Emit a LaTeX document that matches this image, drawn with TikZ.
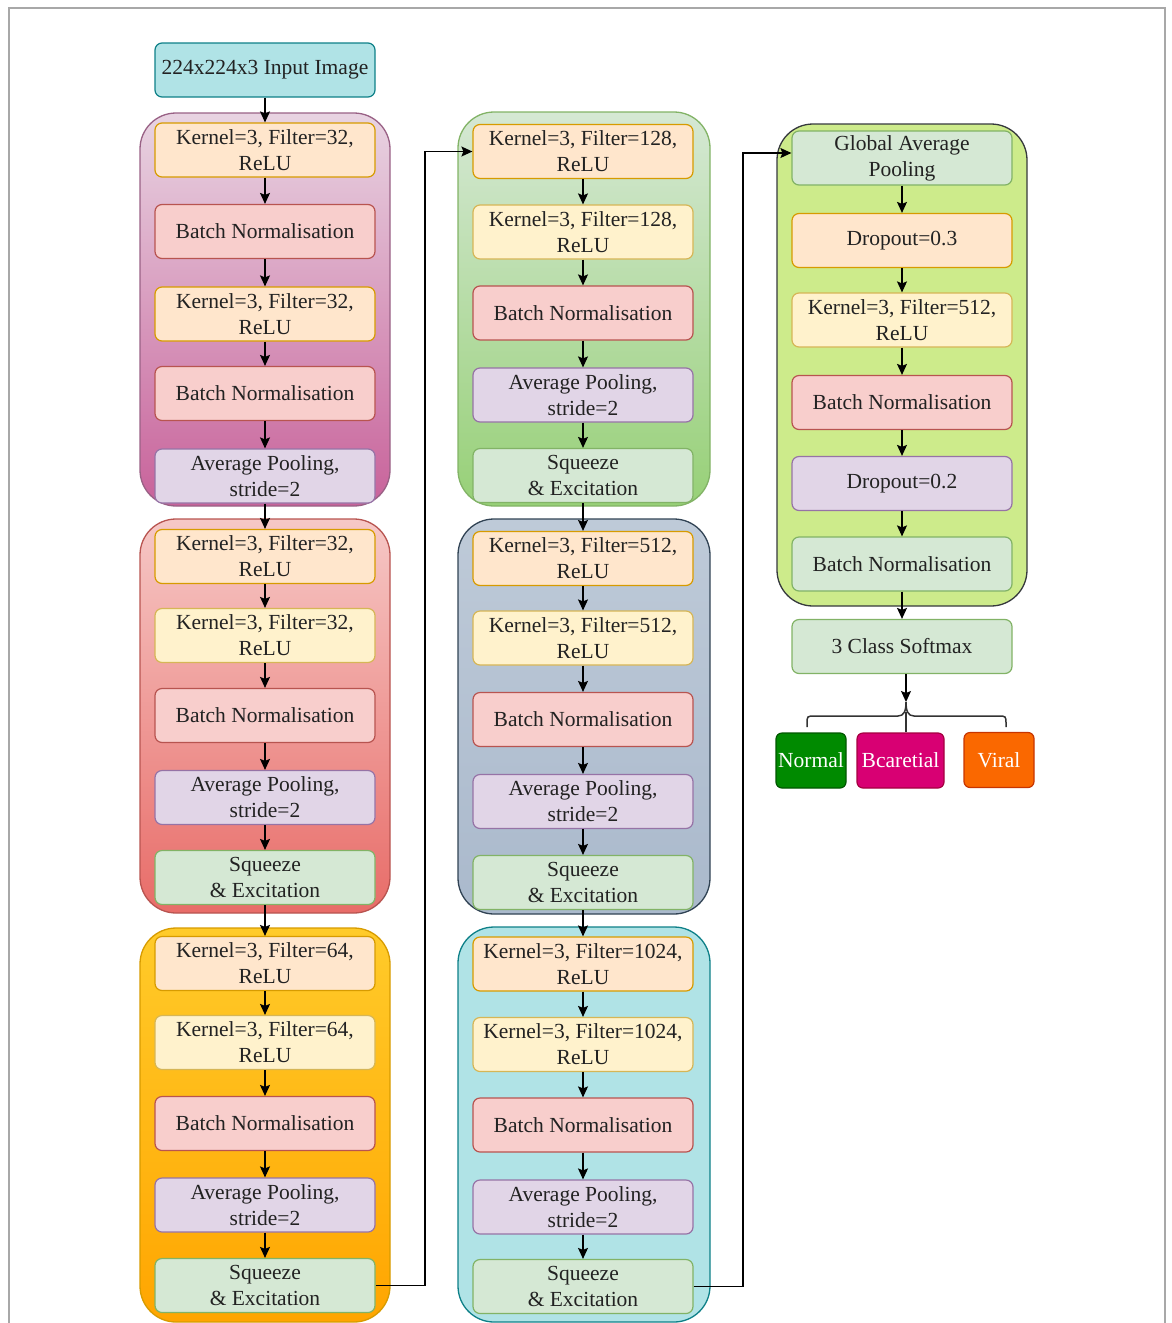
\documentclass[tikz,border=0pt]{standalone}
\usepackage{fontspec}
\setmainfont{Liberation Serif}
\newfontfamily\boxfont{Liberation Serif}
\usetikzlibrary{arrows.meta}

\definecolor{orfill}{HTML}{FFE6CC}\definecolor{ordraw}{HTML}{D79B00}
\definecolor{yefill}{HTML}{FFF2CC}\definecolor{yedraw}{HTML}{D6B656}
\definecolor{rdfill}{HTML}{F8CECC}\definecolor{rddraw}{HTML}{B85450}
\definecolor{pufill}{HTML}{E1D5E7}\definecolor{pudraw}{HTML}{9673A6}
\definecolor{grfill}{HTML}{D5E8D4}\definecolor{grdraw}{HTML}{82B366}
\definecolor{cyfill}{HTML}{B0E3E6}\definecolor{cydraw}{HTML}{0E8088}
\definecolor{frameline}{HTML}{A8A8A8}
\definecolor{ink}{HTML}{222222}

\begin{document}
\begin{tikzpicture}[x=1pt,y=-1pt,
  txt/.style={font=\boxfont\fontsize{21.5}{26}\selectfont, text=ink},
  box/.style={draw, rounded corners=7, minimum width=220, minimum height=54,
    inner sep=0, align=center, line width=1.2, txt},
  convo/.style={box, fill=orfill, draw=ordraw},
  convy/.style={box, fill=yefill, draw=yedraw},
  bn/.style={box, fill=rdfill, draw=rddraw},
  pool/.style={box, fill=pufill, draw=pudraw},
  se/.style={box, fill=grfill, draw=grdraw},
  inbox/.style={box, fill=cyfill, draw=cydraw},
  blk/.style={rounded corners=36, line width=1.3},
  cls/.style={draw, rounded corners=6, minimum height=55, inner sep=0,
    text=white, line width=1.2, font=\boxfont\fontsize{21.5}{26}\selectfont},
  arr/.style={-{Stealth[length=11pt,width=10pt,inset=2pt]}, line width=1.3},
  brace/.style={line width=1.5, draw=black!80}
]
\useasboundingbox (0,0) rectangle (1171,1323);

% outer frame
\draw[frameline, line width=2] (9,1330) -- (9,8) -- (1165,8) -- (1165,1330);

% stage containers
\path[blk, top color={rgb,255:red,232;green,212;blue,226}, bottom color={rgb,255:red,200;green,98;blue,154}, draw={rgb,255:red,153;green,97;blue,133}] (140,113) rectangle (390,506);
\path[blk, top color={rgb,255:red,246;green,200;blue,198}, bottom color={rgb,255:red,232;green,108;blue,104}, draw=rddraw] (140,519) rectangle (390,913);
\path[blk, top color={rgb,255:red,255;green,203;blue,42}, bottom color={rgb,255:red,255;green,165;blue,0}, draw=ordraw] (140,928) rectangle (390,1322);
\path[blk, top color=grfill, bottom color={rgb,255:red,151;green,208;blue,119}, draw=grdraw] (458,112) rectangle (710,506);
\path[blk, top color={rgb,255:red,190;green,202;blue,216}, bottom color={rgb,255:red,170;green,185;blue,204}, draw={rgb,255:red,49;green,67;blue,84}] (458,519) rectangle (710,914);
\path[blk, fill=cyfill, draw=cydraw] (458,927) rectangle (710,1322);
\path[blk, fill={rgb,255:red,205;green,235;blue,139}, draw={rgb,255:red,54;green,57;blue,61}] (777,124) rectangle (1027,606);

% column 1
\node[inbox] (in) at (265,70) {224x224x3 Input Image};
\node[convo] (a1) at (265,150) {Kernel=3, Filter=32,\\ReLU};
\node[bn]    (a2) at (265,231.5) {Batch Normalisation};
\node[convo] (a3) at (265,314) {Kernel=3, Filter=32,\\ReLU};
\node[bn]    (a4) at (265,393.5) {Batch Normalisation};
\node[pool]  (a5) at (265,476) {Average Pooling,\\stride=2};
\node[convo] (b1) at (265,556.5) {Kernel=3, Filter=32,\\ReLU};
\node[convy] (b2) at (265,635.5) {Kernel=3, Filter=32,\\ReLU};
\node[bn]    (b3) at (265,715.5) {Batch Normalisation};
\node[pool]  (b4) at (265,797.5) {Average Pooling,\\stride=2};
\node[se]    (b5) at (265,877.5) {Squeeze\\\& Excitation};
\node[convo] (c1) at (265,963.5) {Kernel=3, Filter=64,\\ReLU};
\node[convy] (c2) at (265,1042.5) {Kernel=3, Filter=64,\\ReLU};
\node[bn]    (c3) at (265,1123.5) {Batch Normalisation};
\node[pool]  (c4) at (265,1205) {Average Pooling,\\stride=2};
\node[se]    (c5) at (265,1285.5) {Squeeze\\\& Excitation};

% column 2
\node[convo] (d1) at (583,151.5) {Kernel=3, Filter=128,\\ReLU};
\node[convy] (d2) at (583,232) {Kernel=3, Filter=128,\\ReLU};
\node[bn]    (d3) at (583,313) {Batch Normalisation};
\node[pool]  (d4) at (583,395) {Average Pooling,\\stride=2};
\node[se]    (d5) at (583,475.5) {Squeeze\\\& Excitation};
\node[convo] (e1) at (583,558.5) {Kernel=3, Filter=512,\\ReLU};
\node[convy] (e2) at (583,638) {Kernel=3, Filter=512,\\ReLU};
\node[bn]    (e3) at (583,719.5) {Batch Normalisation};
\node[pool]  (e4) at (583,801.5) {Average Pooling,\\stride=2};
\node[se]    (e5) at (583,882.5) {Squeeze\\\& Excitation};
\node[convo] (f1) at (583,964) {Kernel=3, Filter=1024,\\ReLU};
\node[convy] (f2) at (583,1044.5) {Kernel=3, Filter=1024,\\ReLU};
\node[bn]    (f3) at (583,1125) {Batch Normalisation};
\node[pool]  (f4) at (583,1207) {Average Pooling,\\stride=2};
\node[se]    (f5) at (583,1286.5) {Squeeze\\\& Excitation};

% column 3
\node[se]    (g1) at (902,158) {Global Average\\Pooling};
\node[convo] (g2) at (902,240.5) {Dropout=0.3};
\node[convy] (g3) at (902,320) {Kernel=3, Filter=512,\\ReLU};
\node[bn]    (g4) at (902,402.5) {Batch Normalisation};
\node[pool]  (g5) at (902,483.5) {Dropout=0.2};
\node[se]    (g6) at (902,564) {Batch Normalisation};
\node[se]    (soft) at (902,646.5) {3 Class Softmax};

% output classes
\node[cls, fill={rgb,255:red,0;green,138;blue,0}, draw={rgb,255:red,0;green,87;blue,0}, minimum width=70] (normal) at (811,760.5) {Normal};
\node[cls, fill={rgb,255:red,216;green,0;blue,115}, draw={rgb,255:red,165;green,0;blue,64}, minimum width=87] (bact) at (900.5,760.5) {Bcaretial};
\node[cls, fill={rgb,255:red,250;green,104;blue,0}, draw={rgb,255:red,199;green,53;blue,0}, minimum width=70] (viral) at (999,760) {Viral};

% vertical flow
\foreach \s/\t in {in/a1,a1/a2,a2/a3,a3/a4,a4/a5,a5/b1,b1/b2,b2/b3,b3/b4,b4/b5,b5/c1,c1/c2,c2/c3,c3/c4,c4/c5,
                   d1/d2,d2/d3,d3/d4,d4/d5,d5/e1,e1/e2,e2/e3,e3/e4,e4/e5,e5/f1,f1/f2,f2/f3,f3/f4,f4/f5,
                   g1/g2,g2/g3,g3/g4,g4/g5,g5/g6,g6/soft}
  \draw[arr] (\s.south) -- (\t.north);

% links between columns
\draw[arr] (c5.east) -- (425,1285.5) |- (d1.west);
\draw[arr] (f5.east) -- (743,1286.5) |- ([yshift=5pt]g1.west);

% softmax split into the three classes
\coordinate (cusp) at (906,702);
\coordinate (bl) at (807,727);
\coordinate (br) at (1006,727);
\draw[arr] (soft.south -| cusp) -- (cusp);
\draw[brace] (bl) -- (807,724) .. controls (807,716) .. (815,716) -- (898,716)
  .. controls (904,716) and (906,711) .. (cusp);
\draw[brace] (cusp) .. controls (906,711) and (908,716) .. (914,716)
  -- (998,716) .. controls (1006,716) .. (1006,724) -- (br);
\draw[brace] (906,712) -- (bact.north -| cusp);
\end{tikzpicture}
\end{document}
